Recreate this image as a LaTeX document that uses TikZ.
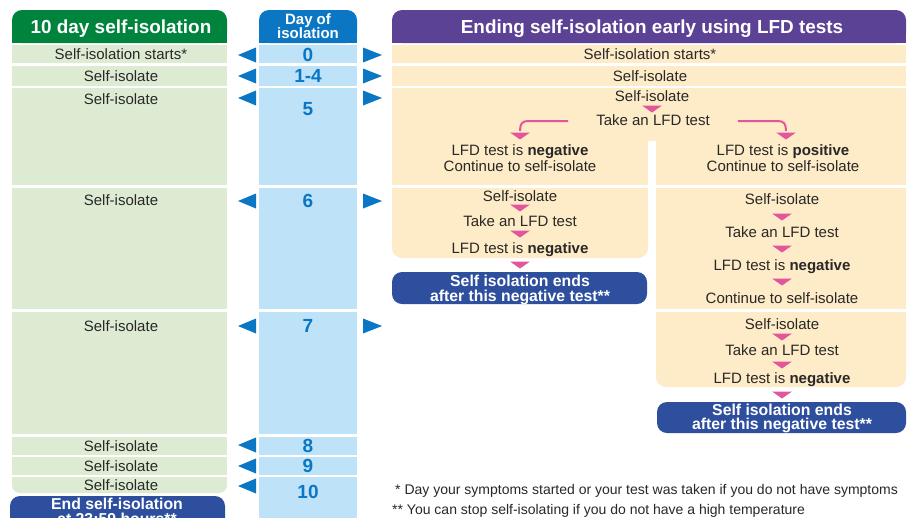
\documentclass[tikz,border=0pt]{standalone}
\usepackage{fontspec}
\setmainfont{Liberation Sans}
\usetikzlibrary{calc}
\definecolor{gHead}{RGB}{0,132,61}
\definecolor{gLight}{RGB}{222,235,211}
\definecolor{bHead}{RGB}{10,118,196}
\definecolor{bLight}{RGB}{190,227,248}
\definecolor{pHead}{RGB}{92,66,148}
\definecolor{oLight}{RGB}{254,235,199}
\definecolor{dBlue}{RGB}{46,78,158}
\definecolor{pinkc}{RGB}{226,86,156}
\definecolor{txt}{RGB}{40,40,40}
\newcommand\pdown[2]{\fill[pinkc] ({#1-10},{#2-3.5}) -- ({#1+10},{#2-3.5}) -- (#1,{#2+3.5}) -- cycle;}
\newcommand\bleft[1]{\fill[bHead] (238,#1) -- (256,{#1-7.5}) -- (256,{#1+7.5}) -- cycle;}
\newcommand\bright[1]{\fill[bHead] (382,#1) -- (363,{#1-7.5}) -- (363,{#1+7.5}) -- cycle;}
\begin{document}
\begin{tikzpicture}[x=1pt,y=-1pt,
  body/.style={font=\fontsize{15}{17}\selectfont, text=txt, inner sep=0pt, text height=10.7pt, text depth=0pt},
  headtxt/.style={font=\fontsize{18.9}{21}\selectfont\bfseries, text=white, inner sep=0pt, text height=13.5pt, text depth=0pt},
  daytxt/.style={font=\fontsize{15}{17}\selectfont\bfseries, text=white, inner sep=0pt, text height=10.7pt, text depth=0pt},
  digit/.style={font=\fontsize{19}{21}\selectfont\bfseries, text=bHead, inner sep=0pt, text height=13.6pt, text depth=0pt},
  endtxt/.style={font=\fontsize{15.8}{18}\selectfont\bfseries, text=white, inner sep=0pt, text height=11.3pt, text depth=0pt},
  foot/.style={font=\fontsize{14}{16}\selectfont, text=txt, inner sep=0pt, anchor=west, text height=10pt, text depth=0pt},
  pinkline/.style={draw=pinkc, line width=2pt},
]
\useasboundingbox (0,0) rectangle (907,517);
\clip (0,0) rectangle (907,517);
\fill[white] (0,0) rectangle (907,517);

% ---------- left column ----------
\fill[gHead,rounded corners=10] (12,10) rectangle (227,43);
\fill[gHead] (12,26) rectangle (227,43);
\fill[gLight] (12,45) rectangle (227,63);
\fill[gLight] (12,66) rectangle (227,86);
\fill[gLight] (12,88) rectangle (227,185);
\fill[gLight] (12,188) rectangle (227,309);
\fill[gLight] (12,312) rectangle (227,434);
\fill[gLight] (12,437) rectangle (227,455);
\fill[gLight] (12,457) rectangle (227,475);
\fill[gLight,rounded corners=8] (12,477) rectangle (227,493);
\fill[gLight] (12,477) rectangle (227,485);
\fill[dBlue,rounded corners=10] (10,496) rectangle (225,545);

\node[headtxt] (lhead) at (121,27) {10 day self-isolation};
\node[body] (l0) at (121,54) {Self-isolation starts*};
\node[body] (l1) at (121,76) {Self-isolate};
\node[body] (l2) at (121,99) {Self-isolate};
\node[body] (l3) at (121,200) {Self-isolate};
\node[body] (l4) at (121,326) {Self-isolate};
\node[body] (l5) at (121,446) {Self-isolate};
\node[body] (l6) at (121,466) {Self-isolate};
\node[body] (l7) at (121,485) {Self-isolate};
\node[endtxt] (lend1) at (117,504) {End self-isolation};
\node[endtxt] (lend2) at (117,519) {at 23:59 hours**};

% ---------- middle column ----------
\fill[bHead,rounded corners=10] (259,10) rectangle (357,43);
\fill[bHead] (259,26) rectangle (357,43);
\fill[bLight] (259,45) rectangle (357,63);
\fill[bLight] (259,66) rectangle (357,86);
\fill[bLight] (259,88) rectangle (357,185);
\fill[bLight] (259,188) rectangle (357,309);
\fill[bLight] (259,312) rectangle (357,434);
\fill[bLight] (259,437) rectangle (357,455);
\fill[bLight] (259,457) rectangle (357,475);
\fill[bLight] (259,477) rectangle (357,530);

\node[daytxt] (dhead1) at (308,19) {Day of};
\node[daytxt] (dhead2) at (308,33) {isolation};
\node[digit] (d0) at (308,55) {0};
\node[digit] (d1) at (308,76) {1-4};
\node[digit] (d5) at (308,109) {5};
\node[digit] (d6) at (308,201) {6};
\node[digit] (d7) at (308,326) {7};
\node[digit] (d8) at (308,446) {8};
\node[digit] (d9) at (308,466) {9};
\node[digit] (d10) at (308,492) {10};

\bleft{55}\bleft{76}\bleft{98}\bleft{201}\bleft{326}\bleft{445}\bleft{466}\bleft{486}
\bright{55}\bright{76}\bright{98}\bright{201}\bright{326}

% ---------- right column ----------
\fill[pHead,rounded corners=10] (392,10) rectangle (906,43);
\fill[pHead] (392,26) rectangle (906,43);
\fill[oLight] (392,45) rectangle (906,63);
\fill[oLight] (392,66) rectangle (906,86);
\fill[oLight] (392,88) rectangle (906,185);
\fill[white] (648,141) rectangle (656,186);
% left sub-box
\fill[oLight,rounded corners=10] (392,188) rectangle (648,258);
\fill[oLight] (392,188) rectangle (648,240);
% right sub-boxes
\fill[oLight] (656,188) rectangle (906,309);
\fill[oLight,rounded corners=10] (656,312) rectangle (906,387);
\fill[oLight] (656,312) rectangle (906,370);
% end boxes
\fill[dBlue,rounded corners=10] (392,272) rectangle (647,304);
\fill[dBlue,rounded corners=10] (657,402) rectangle (906,433);

\node[headtxt] (rhead) at (652,27) {Ending self-isolation early using LFD tests};
\node[body] (r0) at (650,54) {Self-isolation starts*};
\node[body] (r1) at (650,76) {Self-isolate};
\node[body] (r2) at (652,96) {Self-isolate};
\pdown{652}{109}
\node[body] (rtake) at (653,120) {Take an LFD test};
\node[body] (rneg) at (520,150) {LFD test is \textbf{negative}};
\node[body] (rneg2) at (520,166) {Continue to self-isolate};
\node[body] (rpos) at (783,150) {LFD test is \textbf{positive}};
\node[body] (rpos2) at (783,166) {Continue to self-isolate};

\coordinate (la) at ($(rtake.west)+(-28,1)$);
\coordinate (ra) at ($(rtake.east)+(28,1)$);
\draw[pinkline] (la) -- (528,121) .. controls (522,121) and (520,124) .. (520,131);
\pdown{520}{136}
\draw[pinkline] (ra) -- (778,121) .. controls (784,121) and (786,124) .. (786,131);
\pdown{786}{136}

% left branch
\node[body] (a1) at (520,196) {Self-isolate};
\pdown{520}{208}
\node[body] (a2) at (520,221) {Take an LFD test};
\pdown{520}{234}
\node[body] (a3) at (520,248) {LFD test is \textbf{negative}};
\pdown{520}{265}
\node[endtxt] (aend1) at (520,281) {Self isolation ends};
\node[endtxt] (aend2) at (520,296) {after this negative test**};

% right branch, day 6
\node[body] (b1) at (782,199) {Self-isolate};
\pdown{782}{217}
\node[body] (b2) at (782,232) {Take an LFD test};
\pdown{782}{249}
\node[body] (b3) at (782,265) {LFD test is \textbf{negative}};
\pdown{782}{282}
\node[body] (b4) at (782,298) {Continue to self-isolate};

% right branch, day 7
\node[body] (c1) at (782,324) {Self-isolate};
\pdown{782}{337}
\node[body] (c2) at (782,350) {Take an LFD test};
\pdown{782}{365}
\node[body] (c3) at (782,378) {LFD test is \textbf{negative}};
\pdown{782}{395}
\node[endtxt] (cend1) at (782,410) {Self isolation ends};
\node[endtxt] (cend2) at (782,424) {after this negative test**};

% footnotes
\node[foot] (f1) at (395,489) {* Day your symptoms started or your test was taken if you do not have symptoms};
\node[foot] (f2) at (392,509) {** You can stop self-isolating if you do not have a high temperature};
\end{tikzpicture}
\end{document}
